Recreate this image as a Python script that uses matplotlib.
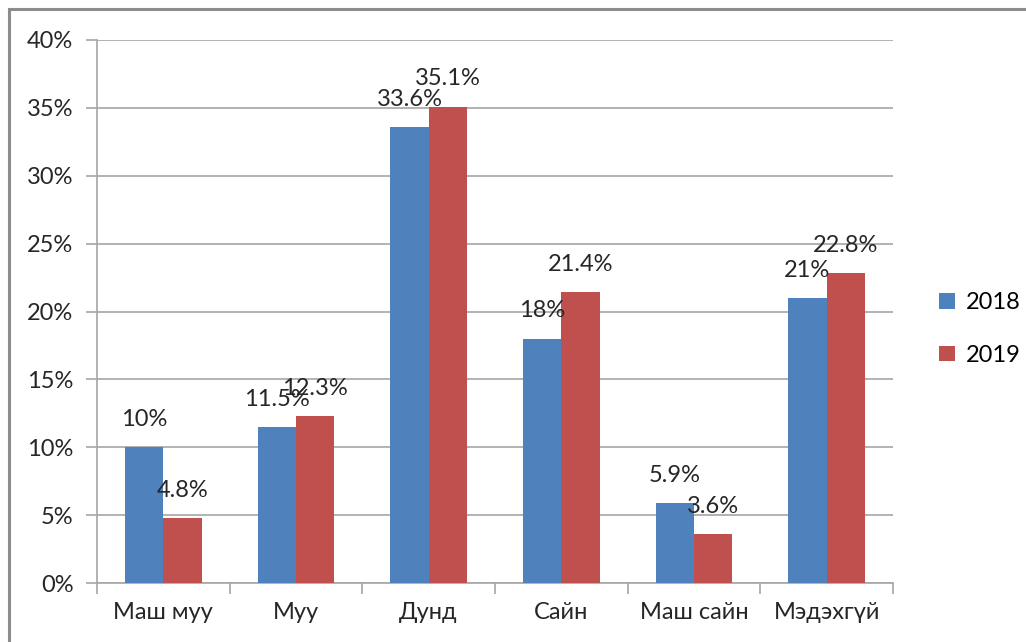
import matplotlib
matplotlib.use("Agg")
import matplotlib.pyplot as plt
import numpy as np
from matplotlib.patches import Rectangle
from matplotlib.ticker import MultipleLocator, FuncFormatter, FixedLocator

plt.rcParams['font.family'] = ['Lato', 'Noto Sans', 'DejaVu Sans']

categories = ["Маш муу", "Муу", "Дунд", "Сайн", "Маш сайн", "Мэдэхгүй"]
years = ["2018", "2019"]
values_2018 = [10, 11.5, 33.6, 18, 5.9, 21]
values_2019 = [4.8, 12.3, 35.1, 21.4, 3.6, 22.8]
labels_2018 = ["10%", "11.5%", "33.6%", "18%", "5.9%", "21%"]
labels_2019 = ["4.8%", "12.3%", "35.1%", "21.4%", "3.6%", "22.8%"]

blue = "#4F81BD"
red = "#C0504D"
grid_c = "#A6A6A6"
fs = 17

fig = plt.figure(figsize=(10.26, 6.42), dpi=100)
ax = fig.add_axes([97/1026, 1 - 583/642, (893 - 97)/1026, (583 - 40)/642])

# outer frame (only left and top visible)
fig.patches.append(Rectangle((9/1026, -0.1), 1.2, 1 - 9/642 + 0.1, transform=fig.transFigure,
                             fill=False, edgecolor="#8C8C8C", linewidth=2.2))

x = np.arange(len(categories))
w = 0.29
b1 = ax.bar(x - w/2, values_2018, w, color=blue, label=years[0], zorder=3)
b2 = ax.bar(x + w/2, values_2019, w, color=red, label=years[1], zorder=3)

for bars, labs in ((b1, labels_2018), (b2, labels_2019)):
    for rect, lab in zip(bars, labs):
        ax.annotate(lab, (rect.get_x() + rect.get_width()/2, rect.get_height()),
                    xytext=(0, 20), textcoords="offset points",
                    ha="center", va="center", fontsize=fs, color="#262626", zorder=4)

ax.set_xlim(-0.5, len(categories) - 0.5)
ax.set_ylim(0, 40)
ax.yaxis.set_major_locator(MultipleLocator(5))
ax.yaxis.set_major_formatter(FuncFormatter(lambda v, p: "%d%%" % v))
ax.grid(axis="y", color=grid_c, linewidth=1.2, zorder=0)
ax.set_xticks(x)
ax.set_xticklabels(categories)
ax.xaxis.set_minor_locator(FixedLocator(np.arange(-0.5, len(categories), 1)))
ax.tick_params(axis="x", which="major", length=0, pad=14, labelsize=fs, labelcolor="#262626")
ax.tick_params(axis="x", which="minor", length=8, width=1.2, color=grid_c)
ax.tick_params(axis="y", length=8, width=1.2, color=grid_c, labelsize=fs, labelcolor="#262626", pad=9)

for s in ("top", "right"):
    ax.spines[s].set_visible(False)
for s in ("left", "bottom"):
    ax.spines[s].set_color(grid_c)
    ax.spines[s].set_linewidth(1.2)

ax.legend(loc="center left", bbox_to_anchor=(1.058, 0.468), frameon=False, fontsize=fs,
          borderaxespad=0, borderpad=0,
          handlelength=0.65, handleheight=0.65, handletextpad=0.5, labelspacing=1.35)

fig.savefig("out.png", dpi=100)
